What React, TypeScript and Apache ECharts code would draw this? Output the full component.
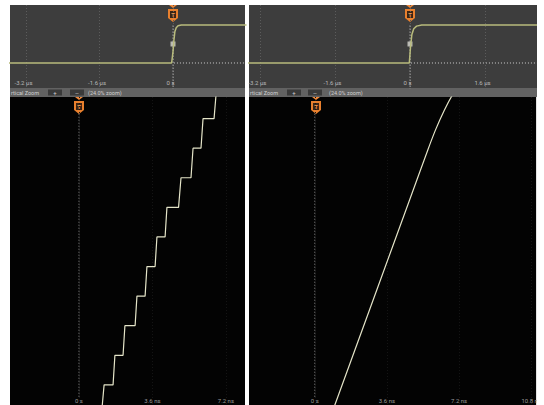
import React, { useEffect, useRef } from "react";
import * as echarts from "echarts";

// Top panels: time in µs, normalized level
const topLeftT = [-3.6, -0.03, 0.0, 0.02, 0.04, 0.07, 0.11, 0.18, 1.6];
const topLeftV = [0, 0, 0.3, 0.6, 0.82, 0.93, 0.98, 1, 1];
const topRightT = [-3.5, -0.015, 0.01, 0.04, 0.08, 0.14, 0.25, 2.8];
const topRightV = [0, 0, 0.4, 0.75, 0.9, 0.97, 1, 1];
const topTicks = [-3.2, -1.6, 0, 1.6];

// Bottom panels: time in ns, level in ADC codes
const stairT = [1.1, 1.23, 1.67, 1.76, 2.16, 2.25, 2.75, 2.84, 3.24, 3.33, 3.73, 3.82, 4.22, 4.31, 4.88, 5.0, 5.49, 5.59, 5.98, 6.08, 6.62, 6.74];
const stairCode = [0, 1, 1, 2, 2, 3, 3, 4, 4, 5, 5, 6, 6, 7, 7, 8, 8, 9, 9, 10, 10, 11];
const rampT = [0.83, 1.0, 2.82, 4.73, 5.64, 6.02, 6.47, 6.87, 7.15];
const rampCode = [0, 0.32, 3.7, 7.25, 8.94, 9.61, 10.29, 10.8, 11.05];
const bottomTicks = [0, 3.6, 7.2, 10.8];

const zip = (a: number[], b: number[]) => a.map((v, i) => [v, b[i]]);
const fmtUs = (v: number) => (v === 0 ? "0 s" : `${v} µs`);
const fmtNs = (v: number) => (v === 0 ? "0 s" : `${v} ns`);

const FONT = "Roboto";

function trigger(x: number, y: number) {
  return {
    type: "group",
    x,
    y,
    z: 50,
    children: [
      { type: "polygon", shape: { points: [[-4, 0], [4, 0], [0, 3]] }, style: { fill: "#f0883a" } },
      { type: "polygon", shape: { points: [[-5, 4], [5, 4], [5, 13], [0, 17], [-5, 13]] }, style: { fill: "#e8802e" } },
      { type: "rect", shape: { x: -3, y: 6, width: 6, height: 7 }, style: { fill: "#3a2414" } },
      { type: "text", style: { text: "T", x: 0, y: 9.5, fill: "#f09a50", fontSize: 6, fontFamily: FONT, fontWeight: "bold", align: "center", verticalAlign: "middle" } },
    ],
  };
}

function toolbar(x: number, w: number, b1: number, b2: number, tx: number) {
  return {
    type: "group",
    x: 0,
    y: 0,
    z: 40,
    children: [
      { type: "rect", shape: { x, y: 88, width: w, height: 9 }, style: { fill: "#626262" } },
      { type: "text", style: { text: "rtical Zoom", x: x + 1, y: 92.5, fill: "#d0d0d0", fontSize: 5.5, fontFamily: FONT, verticalAlign: "middle" } },
      { type: "rect", shape: { x: b1, y: 89.5, width: 14, height: 6 }, style: { fill: "#3a3a3a" } },
      { type: "text", style: { text: "+", x: b1 + 7, y: 92.5, fill: "#cfcfcf", fontSize: 6, fontFamily: FONT, align: "center", verticalAlign: "middle" } },
      { type: "rect", shape: { x: b2, y: 89.5, width: 14, height: 6 }, style: { fill: "#3a3a3a" } },
      { type: "text", style: { text: "—", x: b2 + 7, y: 92.5, fill: "#cfcfcf", fontSize: 5, fontFamily: FONT, align: "center", verticalAlign: "middle" } },
      { type: "text", style: { text: "(24.0% zoom)", x: tx, y: 92.5, fill: "#d0d0d0", fontSize: 5.5, fontFamily: FONT, verticalAlign: "middle" } },
    ],
  };
}

export default function App() {
  const ref = useRef<HTMLDivElement>(null);
  useEffect(() => {
    if (!ref.current) return;
    const chart = echarts.init(ref.current, null, { renderer: "svg" });

    const topX = (gi: number, min: number, max: number) => ({
      type: "value",
      gridIndex: gi,
      min,
      max,
      axisLine: { show: false },
      axisTick: { show: false, customValues: topTicks },
      axisLabel: {
        inside: true,
        customValues: topTicks,
        formatter: fmtUs,
        color: "#b8b8b8",
        fontSize: 6,
        fontFamily: FONT,
        margin: 3,
        padding: [0, 5, 0, 0],
      },
      splitLine: { show: true, lineStyle: { color: "#5c5c5c", type: [1, 2], width: 1 } },
    });
    const botX = (gi: number, min: number, max: number) => ({
      type: "value",
      gridIndex: gi,
      min,
      max,
      axisLine: { show: false },
      axisTick: { show: false, customValues: bottomTicks },
      axisLabel: {
        inside: true,
        customValues: bottomTicks,
        formatter: fmtNs,
        color: "#9a9a9a",
        fontSize: 6,
        fontFamily: FONT,
        margin: 2,
      },
      splitLine: { show: true, lineStyle: { color: "#141414", type: [1, 2], width: 1 } },
    });
    const yAx = (gi: number, min: number, max: number) => ({
      type: "value",
      gridIndex: gi,
      min,
      max,
      show: false,
      splitLine: { show: false },
    });

    const line = (xi: number, data: number[][], color: string, width: number, type: any = "solid", smooth: any = false) => ({
      type: "line",
      xAxisIndex: xi,
      yAxisIndex: xi,
      data,
      symbol: "none",
      smooth,
      lineStyle: { color, width, type },
      clip: true,
      silent: true,
    });

    chart.setOption({
      animation: false,
      backgroundColor: "#ffffff",
      grid: [
        { left: 10, top: 5, width: 235, height: 83, show: true, backgroundColor: "#3d3d3d", borderWidth: 0 },
        { left: 249, top: 5, width: 288, height: 83, show: true, backgroundColor: "#3d3d3d", borderWidth: 0 },
        { left: 10, top: 97, width: 235, height: 308, show: true, backgroundColor: "#030303", borderWidth: 0 },
        { left: 249, top: 97, width: 288, height: 308, show: true, backgroundColor: "#030303", borderWidth: 0 },
      ],
      xAxis: [topX(0, -3.548, 1.567), topX(1, -3.433, 2.708), botX(2, -3.382, 8.137), botX(3, -3.284, 11.045)],
      yAxis: [yAx(0, -0.658, 1.526), yAx(1, -0.658, 1.526), yAx(2, 0.32, 10.73), yAx(3, 0.32, 10.73)],
      series: [
        line(0, [[0.02, 0], [1.6, 0]], "#d0d0d0", 1, [1, 2]),
        line(0, [[0, -0.7], [0, 1.0]], "#d0d0d0", 1, [1, 2]),
        line(0, zip(topLeftT, topLeftV), "#b8bb7c", 1.5),
        {
          type: "scatter", xAxisIndex: 0, yAxisIndex: 0, data: [[0, 0.5]], symbol: "rect", symbolSize: 5,
          itemStyle: { color: "#d8d8d0" }, silent: true,
        },
        line(1, [[0.02, 0], [2.8, 0]], "#d0d0d0", 1, [1, 2]),
        line(1, [[0, -0.7], [0, 1.0]], "#d0d0d0", 1, [1, 2]),
        line(1, zip(topRightT, topRightV), "#b8bb7c", 1.5),
        {
          type: "scatter", xAxisIndex: 1, yAxisIndex: 1, data: [[0, 0.5]], symbol: "rect", symbolSize: 5,
          itemStyle: { color: "#d8d8d0" }, silent: true,
        },
        line(2, [[0, 0.6], [0, 10.2]], "#9a9a9a", 1, [1, 2]),
        line(2, zip(stairT, stairCode), "#e4e4c8", 1.2),
        line(3, [[0, 0.6], [0, 10.2]], "#9a9a9a", 1, [1, 2]),
        line(3, zip(rampT, rampCode), "#e4e4c8", 1.2, "solid", 0.3),
      ],
      graphic: [
        toolbar(10, 235, 48, 70, 88),
        toolbar(249, 288, 287, 308, 329),
        trigger(173, 5),
        trigger(410, 5),
        trigger(79, 97),
        trigger(316, 97),
        { type: "rect", z: 100, shape: { x: 537, y: 0, width: 7, height: 405 }, style: { fill: "#ffffff" } },
      ],
    });
    return () => chart.dispose();
  }, []);
  return <div ref={ref} style={{ position: "fixed", left: 0, top: 0, width: 544, height: 405 }} />;
}
